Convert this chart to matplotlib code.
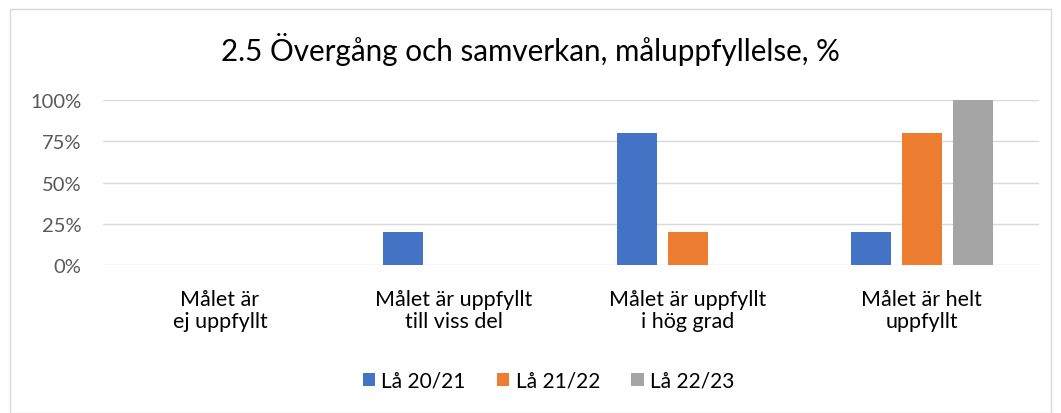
import matplotlib
matplotlib.use('Agg')
import matplotlib.pyplot as plt
import matplotlib.ticker as ticker
from matplotlib.patches import Rectangle
import numpy as np

plt.rcParams['font.family'] = ['Lato', 'DejaVu Sans']

categories = ['Målet är\nej uppfyllt', 'Målet är uppfyllt\ntill viss del',
              'Målet är uppfyllt\ni hög grad', 'Målet är helt\nuppfyllt']
series_names = ['Lå 20/21', 'Lå 21/22', 'Lå 22/23']
la_20_21 = [0, 20, 80, 20]
la_21_22 = [0, 0, 20, 80]
la_22_23 = [0, 0, 0, 100]
colors = ['#4472C4', '#ED7D31', '#A5A5A5']

fig = plt.figure(figsize=(10.61, 4.14), dpi=100)
ax = fig.add_axes([0.097, 0.357, 0.882, 0.399])

# chart border
fig.patches.append(Rectangle((0.0095, 0.0), 0.981, 0.975, transform=fig.transFigure,
                             fill=False, edgecolor='#D9D9D9', linewidth=1))

ind = np.arange(len(categories))
width = 0.171
offset = 0.218
for i, (vals, name) in enumerate(zip([la_20_21, la_21_22, la_22_23], series_names)):
    ax.bar(ind + (i - 1) * offset, vals, width, color=colors[i], label=name, zorder=3)

ax.set_xlim(-0.5, len(categories) - 0.5)
ax.set_ylim(0, 100)
ax.yaxis.set_major_locator(ticker.MultipleLocator(25))
ax.yaxis.set_major_formatter(ticker.FuncFormatter(lambda v, p: '%d%%' % v))
ax.grid(axis='y', color='#D9D9D9', linewidth=1, zorder=0)
ax.set_xticks(ind)
ax.set_xticklabels(categories, fontsize=15.5, color='#000000', linespacing=1.15)
ax.tick_params(axis='x', length=0, pad=17)
ax.tick_params(axis='y', length=0, labelsize=14.5, labelcolor='#595959', pad=15.5)
for s in ax.spines.values():
    s.set_visible(False)

fig.text(0.5, 0.88, '2.5 Övergång och samverkan, måluppfyllelse, %', ha='center',
         va='center', fontsize=21.3, color='#000000')

fig.legend(loc='center', bbox_to_anchor=(0.517, 0.078), ncol=3, frameon=False,
           fontsize=15, handlelength=0.6, handleheight=0.6, handletextpad=0.3,
           columnspacing=1.5)

fig.savefig('out.png', dpi=100)
